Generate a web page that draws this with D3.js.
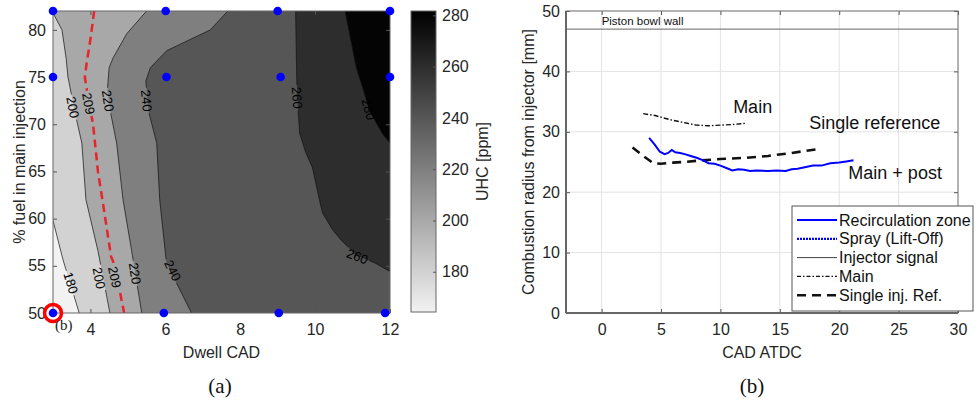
<!DOCTYPE html>
<html><head><meta charset="utf-8">
<script src="https://cdn.jsdelivr.net/npm/d3@7"></script>
<style>
body{margin:0;background:#fff;}
text{font-family:"Liberation Sans",Arial,sans-serif;fill:#262626;}
.serif{font-family:"Liberation Serif","Times New Roman",serif;}
</style>
</head><body>
<svg id="c" width="977" height="401"></svg>
<script>
// ---------------- DATA: panel (a) ----------------
const dwellDomain = [3, 12];
const fuelDomain = [50, 82];
const dwellTicks = [4, 6, 8, 10, 12];
const fuelTicks = [50, 55, 60, 65, 70, 75, 80];
const uhcRange = [164.3, 281.7];
const colorbarTicks = [180, 200, 220, 240, 260, 280];
const fillLevels = [180, 200, 220, 240, 260, 280];
// contour lines: [dwell, fuel]
const contour180 = [[3.0,59.8],[3.27,55.6],[3.7,50]];
const contour200 = [[3.0,81.8],[3.24,80],[3.35,77],[3.4,75],[3.6,71],[3.77,68],[3.88,62],[4.2,56.6],[4.52,50]];
const contour220 = [[5.5,82],[4.97,79.6],[4.6,77],[4.5,76],[4.45,73.5],[4.55,71],[4.7,68],[4.87,62],[5.1,56.6],[5.37,50]];
const contour240 = [[7.67,82],[7.2,80],[6.04,77.8],[5.6,76],[5.48,74.6],[5.55,71.4],[5.77,68],[5.85,62],[6.03,55.3],[6.7,50]];
const contour260 = [[9.48,82],[9.5,77],[9.52,73],[9.59,69],[9.75,67],[9.93,65.4],[10.12,61.9],[10.2,60.6],[10.47,58.8],[10.7,57.7],[11.1,56.1],[11.6,55.3],[12.0,54.4]];
const contour280 = [[10.8,82],[10.95,79],[11.1,76],[11.3,73.5],[11.45,71.4],[11.8,69],[12.0,68]];
const contour209 = [[4.1,82],[4.0,79],[3.9,76.5],[3.85,75],[3.95,72.5],[4.07,70],[4.2,65],[4.32,62],[4.55,56],[4.65,55],[4.9,50]];
const contourLabelText = ["200","209","220","240","180","200","209","220","240","260","280","260"];
const contourLabelDwell = [3.53,3.95,4.47,5.5,3.48,4.23,4.65,5.19,6.2,9.52,11.43,11.13];
const contourLabelFuel  = [71.8,72.2,72.5,72.5,53.2,53.7,53.8,54.2,54.5,72.8,71.6,56.0];
const testDwell = [3,6.01,9.0,12,3,6.03,9.08,12,3,5.96,9.03,11.87];
const testFuel  = [82,82,82,82,75,75,75,75,50,50,50,50];
const highlightPoint = [3, 50];

// ---------------- DATA: panel (b) ----------------
const cadDomain = [-3, 30];
const radiusDomain = [0, 50];
const cadTicks = [0, 5, 10, 15, 20, 25, 30];
const radiusTicks = [0, 10, 20, 30, 40, 50];
const recircCAD = [4.0,4.5,4.9,5.3,5.6,5.9,6.2,6.6,7.0,7.5,8.0,8.5,9.0,9.5,10.0,10.5,11.0,11.5,12.0,12.5,13,14,14.75,15.5,16,16.5,17,17.8,18.5,19.25,20,20.6,21.2];
const recircR   = [29.0,27.8,26.7,26.3,26.5,27.0,26.6,26.5,26.3,26.0,25.7,25.3,24.8,24.7,24.4,24.0,23.6,23.8,23.7,23.5,23.6,23.5,23.6,23.5,23.8,23.9,24.1,24.4,24.4,24.8,24.9,25.1,25.3];
const mainCAD = [3.5,4.5,5.2,6,7,8,9,10,11,12.1];
const mainR   = [33.0,32.7,32.3,31.9,31.5,31.1,31.0,31.1,31.2,31.4];
const singleCAD = [2.6,3.5,4.35,5,6,7.2,8,10,12.2,14,16,18.4];
const singleR   = [27.4,26.0,24.8,24.7,24.9,25.05,25.2,25.5,25.7,26.0,26.5,27.2];
const pistonWallR = 47;
const legendLabels = ["Recirculation zone","Spray (Lift-Off)","Injector signal","Main","Single inj. Ref."];

// ---------------- DRAW ----------------
const svg = d3.select("#c");
const x = d3.scaleLinear(dwellDomain, [53, 390]);
const y = d3.scaleLinear(fuelDomain, [313, 11]);
const gray = d3.scaleLinear(uhcRange, ["#f2f2f2", "#000000"]);

const defs = svg.append("defs");
defs.append("clipPath").attr("id","clipA").append("rect")
  .attr("x",x(3)).attr("y",y(82)).attr("width",x(12)-x(3)).attr("height",y(50)-y(82));

// boundary perimeter parameter
function perim(p){
  const [a,b]=p, e=1e-6;
  if (Math.abs(b-50)<e) return a-3;
  if (Math.abs(a-12)<e) return 9+(b-50);
  if (Math.abs(b-82)<e) return 41+(12-a);
  return 50+(82-b);
}
const corners=[[12,50,9],[12,82,41],[3,82,50],[3,50,82]];
function fillPoly(line){
  const tEnd=perim(line[line.length-1]); let tStart=perim(line[0]);
  if (tStart<tEnd) tStart+=82;
  const extra=[];
  corners.forEach(c=>{ [c[2],c[2]+82].forEach(t=>{ if(t>tEnd && t<tStart) extra.push([c[0],c[1],t]); }); });
  extra.sort((p,q)=>p[2]-q[2]);
  return line.concat(extra.map(c=>[c[0],c[1]]));
}
const contourLines = [contour180,contour200,contour220,contour240,contour260,contour280];
const gA = svg.append("g").attr("clip-path","url(#clipA)");
gA.append("rect").attr("x",x(3)).attr("y",y(82)).attr("width",x(12)-x(3)).attr("height",y(50)-y(82))
  .attr("fill", gray(uhcRange[0]));
const lineGen = d3.line().x(d=>x(d[0])).y(d=>y(d[1]));
contourLines.forEach((ln,i)=>{
  gA.append("path").attr("d", lineGen(fillPoly(ln))+"Z").attr("fill", gray(fillLevels[i]));
});

// labels with line gaps via mask
const mask = defs.append("mask").attr("id","lblMask").attr("maskUnits","userSpaceOnUse");
mask.append("rect").attr("x",0).attr("y",0).attr("width",977).attr("height",401).attr("fill","#fff");
const labelLineMap = {"180":contour180,"200":contour200,"209":contour209,"220":contour220,"240":contour240,"260":contour260,"280":contour280};
function angleAt(line, px, py){
  let best=1e9, ang=0;
  for(let i=0;i<line.length-1;i++){
    const x1=x(line[i][0]),y1=y(line[i][1]),x2=x(line[i+1][0]),y2=y(line[i+1][1]);
    const dx=x2-x1, dy=y2-y1, L=dx*dx+dy*dy;
    let t=((px-x1)*dx+(py-y1)*dy)/L; t=Math.max(0,Math.min(1,t));
    const qx=x1+t*dx-px, qy=y1+t*dy-py, dd=qx*qx+qy*qy;
    if(dd<best){best=dd; ang=Math.atan2(dy,dx)*180/Math.PI;}
  }
  if(ang>90) ang-=180; if(ang<=-90) ang+=180;
  return ang;
}
const lblG = svg.append("g");
contourLabelText.forEach((t,i)=>{
  const px=x(contourLabelDwell[i]), py=y(contourLabelFuel[i]);
  const a=angleAt(labelLineMap[t], px, py);
  const tx=lblG.append("text").attr("transform",`translate(${px},${py}) rotate(${a})`)
    .attr("text-anchor","middle").attr("dy","0.36em").style("font-size","13px").style("fill","#000").text(t);
  const w=tx.node().getComputedTextLength()+4;
  mask.append("rect").attr("x",-w/2).attr("y",-6).attr("width",w).attr("height",12)
    .attr("transform",`translate(${px},${py}) rotate(${a})`).attr("fill","#000");
});
const linesG = gA.append("g").attr("mask","url(#lblMask)");
contourLines.forEach(ln=>{
  linesG.append("path").attr("d",lineGen(ln)).attr("fill","none").attr("stroke","#111").attr("stroke-width",0.7);
});
linesG.append("path").attr("d",lineGen(contour209)).attr("fill","none").attr("stroke","#e8232a")
  .attr("stroke-width",2.5).attr("stroke-dasharray","8,5");
lblG.raise();

// axes panel (a)
function styleAxis(g){
  g.select(".domain").remove();
  g.selectAll(".tick line").attr("stroke","#555");
  g.selectAll(".tick text").style("font-size","16px").style("fill","#262626")
    .style("font-family","'Liberation Sans',Arial,sans-serif");
}
svg.append("g").attr("transform",`translate(0,${y(50)})`)
  .call(d3.axisBottom(x).tickValues(dwellTicks).tickSizeInner(-4).tickSizeOuter(0).tickPadding(11)).call(styleAxis);
svg.append("g").attr("transform",`translate(${x(3)},0)`)
  .call(d3.axisLeft(y).tickValues(fuelTicks).tickSizeInner(-4).tickSizeOuter(0).tickPadding(7)).call(styleAxis);
svg.append("g").attr("transform",`translate(0,${y(82)})`)
  .call(d3.axisTop(x).tickValues(dwellTicks).tickSizeInner(-4).tickSizeOuter(0).tickFormat("")).call(styleAxis);
svg.append("g").attr("transform",`translate(${x(12)},0)`)
  .call(d3.axisRight(y).tickValues(fuelTicks).tickSizeInner(-4).tickSizeOuter(0).tickFormat("")).call(styleAxis);
svg.append("rect").attr("x",x(3)).attr("y",y(82)).attr("width",x(12)-x(3)).attr("height",y(50)-y(82))
  .attr("fill","none").attr("stroke","#666").attr("stroke-width",1);

// points
svg.append("circle").attr("cx",x(highlightPoint[0])).attr("cy",y(highlightPoint[1])).attr("r",8.5)
  .attr("fill","none").attr("stroke","#ff0000").attr("stroke-width",3.5);
svg.append("g").selectAll("circle").data(testDwell).join("circle")
  .attr("cx",d=>x(d)).attr("cy",(d,i)=>y(testFuel[i])).attr("r",4.3).attr("fill","#0000ff");

svg.append("text").attr("x",(x(3)+x(12))/2).attr("y",358).attr("text-anchor","middle").style("font-size","16px").text("Dwell CAD");
svg.append("text").attr("transform",`translate(19,${(y(50)+y(82))/2}) rotate(-90)`).attr("dy","0.35em")
  .attr("text-anchor","middle").style("font-size","16px").text("% fuel in main injection");
svg.append("text").attr("class","serif").attr("x",55).attr("y",330).style("font-size","15px").style("fill","#222").text("(b)");

// colorbar
const cb = d3.scaleLinear(uhcRange, [312, 11]);
const grad = defs.append("linearGradient").attr("id","cbGrad").attr("x1",0).attr("y1",1).attr("x2",0).attr("y2",0);
grad.append("stop").attr("offset",0).attr("stop-color",gray(uhcRange[0]));
grad.append("stop").attr("offset",1).attr("stop-color",gray(uhcRange[1]));
svg.append("rect").attr("x",411).attr("y",cb(uhcRange[1])).attr("width",25).attr("height",cb(uhcRange[0])-cb(uhcRange[1]))
  .attr("fill","url(#cbGrad)").attr("stroke","#666").attr("stroke-width",1);
svg.append("g").attr("transform","translate(436,0)")
  .call(d3.axisRight(cb).tickValues(colorbarTicks).tickSizeInner(-3).tickSizeOuter(0).tickPadding(6)).call(styleAxis);
svg.append("text").attr("transform",`translate(482,${(cb(uhcRange[0])+cb(uhcRange[1]))/2}) rotate(-90)`).attr("dy","0.35em")
  .attr("text-anchor","middle").style("font-size","16px").text("UHC [ppm]");

// ---------------- panel (b) ----------------
const x2 = d3.scaleLinear(cadDomain, [566, 958]);
const y2 = d3.scaleLinear(radiusDomain, [313, 11]);
const gB = svg.append("g");
gB.append("g").selectAll("line").data(cadTicks).join("line")
  .attr("x1",d=>x2(d)).attr("x2",d=>x2(d)).attr("y1",y2(0)).attr("y2",y2(50)).attr("stroke","#e3e3e3");
gB.append("g").selectAll("line").data(radiusTicks).join("line")
  .attr("y1",d=>y2(d)).attr("y2",d=>y2(d)).attr("x1",x2(-3)).attr("x2",x2(30)).attr("stroke","#e3e3e3");
// piston wall
gB.append("line").attr("x1",x2(-3)).attr("x2",x2(30)).attr("y1",y2(pistonWallR)).attr("y2",y2(pistonWallR))
  .attr("stroke","#555").attr("stroke-width",0.9);
gB.append("text").attr("x",x2(0)).attr("y",y2(pistonWallR)-4).style("font-size","11.5px").style("fill","#111").text("Piston bowl wall");

gB.append("g").attr("transform",`translate(0,${y2(0)})`)
  .call(d3.axisBottom(x2).tickValues(cadTicks).tickSizeInner(-4).tickSizeOuter(0).tickPadding(11)).call(styleAxis);
gB.append("g").attr("transform",`translate(${x2(-3)},0)`)
  .call(d3.axisLeft(y2).tickValues(radiusTicks).tickSizeInner(-4).tickSizeOuter(0).tickPadding(6)).call(styleAxis);
gB.append("g").attr("transform",`translate(0,${y2(50)})`)
  .call(d3.axisTop(x2).tickValues(cadTicks).tickSizeInner(-4).tickSizeOuter(0).tickFormat("")).call(styleAxis);
gB.append("g").attr("transform",`translate(${x2(30)},0)`)
  .call(d3.axisRight(y2).tickValues(radiusTicks).tickSizeInner(-4).tickSizeOuter(0).tickFormat("")).call(styleAxis);
gB.append("rect").attr("x",x2(-3)).attr("y",y2(50)).attr("width",x2(30)-x2(-3)).attr("height",y2(0)-y2(50))
  .attr("fill","none").attr("stroke","#777").attr("stroke-width",1);
gB.append("line").attr("x1",x2(-3)).attr("x2",x2(30)).attr("y1",y2(0)).attr("y2",y2(0)).attr("stroke","#666").attr("stroke-width",2);
gB.append("line").attr("x1",x2(-3)).attr("x2",x2(-3)).attr("y1",y2(0)).attr("y2",y2(50)).attr("stroke","#666").attr("stroke-width",2);

const line2 = d3.line().x(d=>x2(d[0])).y(d=>y2(d[1]));
gB.append("path").attr("d",line2(mainCAD.map((c,i)=>[c,mainR[i]]))).attr("fill","none")
  .attr("stroke","#111").attr("stroke-width",1.4).attr("stroke-dasharray","5,2,1.5,2");
gB.append("path").attr("d",line2(singleCAD.map((c,i)=>[c,singleR[i]]))).attr("fill","none")
  .attr("stroke","#111").attr("stroke-width",2.6).attr("stroke-dasharray","9,6");
gB.append("path").attr("d",line2(recircCAD.map((c,i)=>[c,recircR[i]]))).attr("fill","none")
  .attr("stroke","#0000ff").attr("stroke-width",2);

// annotations
gB.append("text").attr("x",x2(11.07)).attr("y",y2(34.1)).attr("dy","0.35em").style("font-size","18px").style("fill","#111").text("Main");
gB.append("text").attr("x",x2(17.48)).attr("y",y2(31.46)).attr("dy","0.35em").style("font-size","18px").style("fill","#111").text("Single reference");
gB.append("text").attr("x",x2(20.77)).attr("y",y2(23.2)).attr("dy","0.35em").style("font-size","18px").style("fill","#111").text("Main + post");

// legend
const lg = gB.append("g").attr("transform","translate(792,206)");
lg.append("rect").attr("width",181).attr("height",105).attr("fill","#fff").attr("stroke","#555").attr("stroke-width",1);
const legStyles = [
  {stroke:"#0000ff",w:2.2,dash:null},
  {stroke:"#0000ff",w:2.2,dash:"2,1"},
  {stroke:"#111",w:0.8,dash:null},
  {stroke:"#111",w:1.4,dash:"4,2,1.5,2"},
  {stroke:"#111",w:2.6,dash:"9,6"}
];
legendLabels.forEach((t,i)=>{
  const yy=14+i*18.8;
  lg.append("line").attr("x1",5).attr("x2",45).attr("y1",yy).attr("y2",yy)
    .attr("stroke",legStyles[i].stroke).attr("stroke-width",legStyles[i].w).attr("stroke-dasharray",legStyles[i].dash);
  lg.append("text").attr("x",47).attr("y",yy).attr("dy","0.35em").style("font-size","16px").style("fill","#111").text(t);
});

// subtitles
svg.append("text").attr("class","serif").attr("x",x2(-3)+ (x2(30)-x2(-3))/2 + 0).attr("y",358).attr("text-anchor","middle")
  .style("font-size","16px").style("font-family","'Liberation Sans',Arial,sans-serif").text("CAD ATDC");
svg.append("text").attr("transform",`translate(528,${(y2(0)+y2(50))/2}) rotate(-90)`).attr("dy","0.35em")
  .attr("text-anchor","middle").style("font-size","16px").text("Combustion radius from injector [mm]");
svg.append("text").attr("class","serif").attr("x",220).attr("y",393).attr("text-anchor","middle").style("font-size","21px").style("fill","#111").text("(a)");
svg.append("text").attr("class","serif").attr("x",752).attr("y",393).attr("text-anchor","middle").style("font-size","21px").style("fill","#111").text("(b)");
</script>
</body></html>
